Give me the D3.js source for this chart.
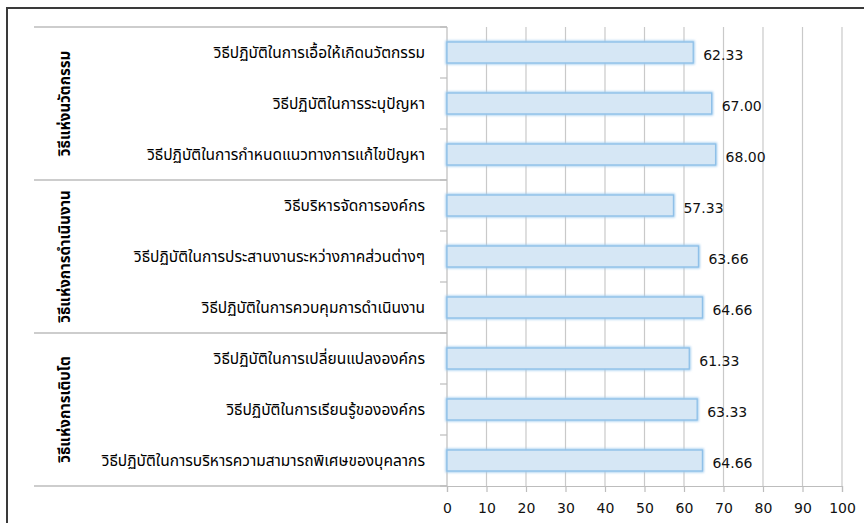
<!DOCTYPE html>
<html>
<head>
<meta charset="utf-8">
<script src="https://cdn.jsdelivr.net/npm/d3@7"></script>
<style>
  html, body { margin: 0; padding: 0; background: #fff; }
  svg { display: block; }
  .thai { font-family: Tahoma, "Noto Sans Thai", "Noto Sans", "DejaVu Sans", sans-serif; }
  .num { font-family: Tahoma, Verdana, "DejaVu Sans", sans-serif; }
</style>
</head>
<body>
<svg id="chart" width="864" height="523"></svg>
<script>
// Practice categories, top to bottom
const categories = [
  "วิธีปฏิบัติในการเอื้อให้เกิดนวัตกรรม",
  "วิธีปฏิบัติในการระบุปัญหา",
  "วิธีปฏิบัติในการกำหนดแนวทางการแก้ไขปัญหา",
  "วิธีบริหารจัดการองค์กร",
  "วิธีปฏิบัติในการประสานงานระหว่างภาคส่วนต่างๆ",
  "วิธีปฏิบัติในการควบคุมการดำเนินงาน",
  "วิธีปฏิบัติในการเปลี่ยนแปลงองค์กร",
  "วิธีปฏิบัติในการเรียนรู้ขององค์กร",
  "วิธีปฏิบัติในการบริหารความสามารถพิเศษของบุคลากร"
];
const values = [62.33, 67.00, 68.00, 57.33, 63.66, 64.66, 61.33, 63.33, 64.66];
const valueLabels = ["62.33", "67.00", "68.00", "57.33", "63.66", "64.66", "61.33", "63.33", "64.66"];
// Groups: name and number of categories in each
const groupNames = ["วิธีแห่งนวัตกรรม", "วิธีแห่งการดำเนินงาน", "วิธีแห่งการเติบโต"];
const groupSizes = [3, 3, 3];
const xTicks = [0, 10, 20, 30, 40, 50, 60, 70, 80, 90, 100];

const svg = d3.select("#chart");
const plot = { left: 447, right: 842, top: 27, bottom: 486 };

const x = d3.scaleLinear().domain([0, 100]).range([plot.left, plot.right]);
const y = d3.scaleBand().domain(categories).range([plot.top, plot.bottom]).paddingInner(0.59).paddingOuter(0.295);
const yBand = d3.scaleBand().domain(categories).range([plot.top, plot.bottom]);

// Outer frame
svg.append("path")
  .attr("d", "M7,523 L7,8 L864,8")
  .attr("fill", "none").attr("stroke", "#3a3a3a").attr("stroke-width", 2);

// Vertical gridlines
svg.append("g").selectAll("line")
  .data(xTicks.filter(t => t > 0))
  .join("line")
  .attr("x1", d => x(d)).attr("x2", d => x(d))
  .attr("y1", plot.top).attr("y2", plot.bottom)
  .attr("stroke", "#c9c9c9").attr("stroke-width", 1.2);

// Bottom axis
const xAxis = svg.append("g")
  .attr("transform", `translate(0,${plot.bottom})`)
  .call(d3.axisBottom(x).tickValues(xTicks).tickSize(6).tickPadding(11).tickFormat(d3.format("d")));
xAxis.select(".domain").attr("stroke", "#bdbdbd").attr("stroke-width", 1.2);
xAxis.selectAll(".tick line").attr("stroke", "#bdbdbd").attr("stroke-width", 1.2);
xAxis.selectAll(".tick text").attr("class", "num").attr("font-size", 14).attr("fill", "#111");

// Left axis line with ticks at category boundaries
const boundaries = categories.map(c => yBand(c)).concat([plot.bottom]);
svg.append("line")
  .attr("x1", plot.left).attr("x2", plot.left)
  .attr("y1", plot.top).attr("y2", plot.bottom)
  .attr("stroke", "#bdbdbd").attr("stroke-width", 1.2);
svg.append("g").selectAll("line")
  .data(boundaries)
  .join("line")
  .attr("x1", plot.left - 7).attr("x2", plot.left)
  .attr("y1", d => d).attr("y2", d => d)
  .attr("stroke", "#bdbdbd").attr("stroke-width", 1.2);

// Group separators spanning the label area
let acc = 0;
const groupBounds = [plot.top];
groupSizes.forEach(n => { acc += n; groupBounds.push(acc < categories.length ? yBand(categories[acc]) : plot.bottom); });
svg.append("g").selectAll("line")
  .data(groupBounds)
  .join("line")
  .attr("x1", 34).attr("x2", plot.left)
  .attr("y1", d => d).attr("y2", d => d)
  .attr("stroke", "#bdbdbd").attr("stroke-width", 1.5);

// Soft glow filter for bar outlines
const defs = svg.append("defs");
defs.append("filter").attr("id", "glow").attr("x", "-5%").attr("y", "-30%").attr("width", "110%").attr("height", "160%")
  .append("feGaussianBlur").attr("stdDeviation", 1.2);

const bars = svg.append("g");
bars.selectAll("rect.glow")
  .data(categories)
  .join("rect")
  .attr("class", "glow")
  .attr("x", x(0)).attr("y", d => y(d))
  .attr("width", (d, i) => x(values[i]) - x(0))
  .attr("height", y.bandwidth())
  .attr("fill", "none").attr("stroke", "#9fcbee").attr("stroke-width", 3)
  .attr("filter", "url(#glow)");
bars.selectAll("rect.bar")
  .data(categories)
  .join("rect")
  .attr("class", "bar")
  .attr("x", x(0)).attr("y", d => y(d))
  .attr("width", (d, i) => x(values[i]) - x(0))
  .attr("height", y.bandwidth())
  .attr("fill", "#d6e7f5").attr("stroke", "#8fc0e8").attr("stroke-width", 1.3);

// Value labels
svg.append("g").selectAll("text")
  .data(categories)
  .join("text")
  .attr("class", "num")
  .attr("x", (d, i) => x(values[i]) + 10)
  .attr("y", d => y(d) + y.bandwidth() / 2 + 7)
  .attr("font-size", 14).attr("fill", "#111")
  .text((d, i) => valueLabels[i]);

// Category labels
svg.append("g").selectAll("text")
  .data(categories)
  .join("text")
  .attr("class", "thai")
  .attr("x", 425)
  .attr("y", d => yBand(d) + yBand.bandwidth() / 2 + 5)
  .attr("text-anchor", "end")
  .attr("font-size", 15.5).attr("fill", "#000")
  .text(d => d);

// Group labels, rotated
svg.append("g").selectAll("text")
  .data(groupNames)
  .join("text")
  .attr("class", "thai")
  .attr("transform", (d, i) => `translate(70,${(groupBounds[i] + groupBounds[i + 1]) / 2}) rotate(-90)`)
  .attr("text-anchor", "middle")
  .attr("font-size", 15).attr("font-weight", "bold").attr("fill", "#000")
  .text(d => d);
</script>
</body>
</html>
